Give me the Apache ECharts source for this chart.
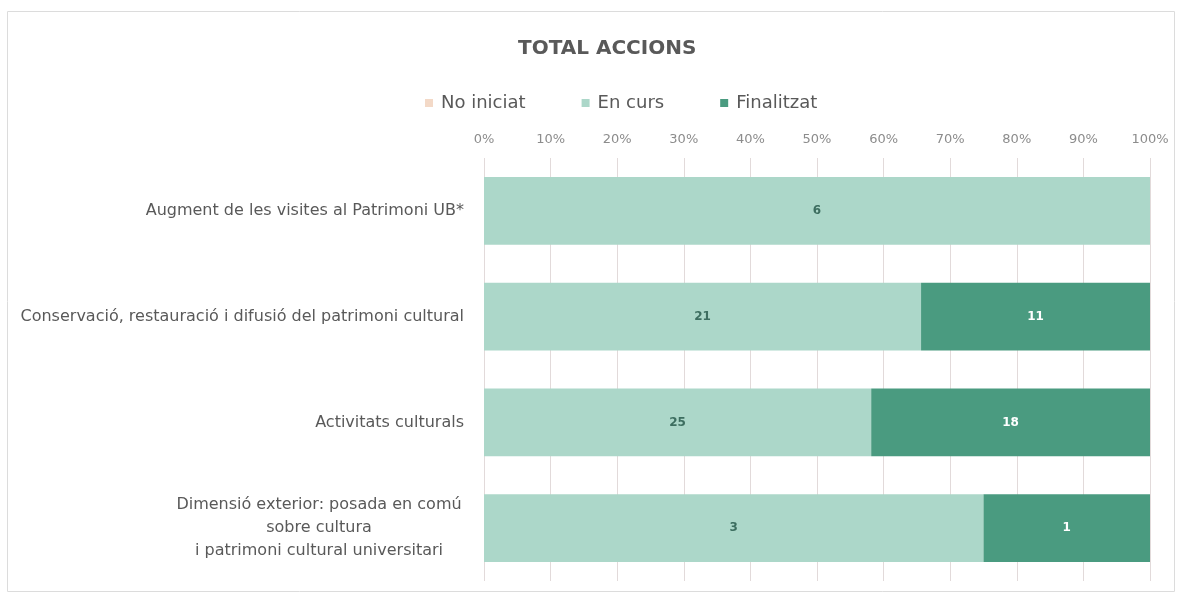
<!DOCTYPE html>
<html>
<head>
<meta charset="utf-8">
<script src="https://cdn.jsdelivr.net/npm/echarts@6/dist/echarts.min.js"></script>
<style>html,body{margin:0;padding:0;background:#fff}#c{width:1181px;height:596px}</style>
</head>
<body>
<div id="c"></div>
<script>
var categories = [
  "Augment de les visites al Patrimoni UB*",
  "Conservació, restauració i difusió del patrimoni cultural",
  "Activitats culturals",
  "Dimensió exterior: posada en comú\nsobre cultura\ni patrimoni cultural universitari"
];
var seriesNames = ["No iniciat", "En curs", "Finalitzat"];
var noIniciat = [0, 0, 0, 0];
var enCurs = [6, 21, 25, 3];
var finalitzat = [0, 11, 18, 1];
var tickLabels = ["0%","10%","20%","30%","40%","50%","60%","70%","80%","90%","100%"];

var totals = categories.map(function(_, i){ return noIniciat[i] + enCurs[i] + finalitzat[i]; });
function share(arr){ return arr.map(function(v, i){ return {value: totals[i] ? v / totals[i] * 100 : 0, count: v}; }); }

var FONT = "DejaVu Sans";
var chart = echarts.init(document.getElementById('c'));
var labelFmt = function(p){ return p.data.count > 0 ? String(p.data.count) : ''; };

chart.setOption({
  animation: false,
  textStyle: {fontFamily: FONT},
  graphic: [{type: 'rect', shape: {x: 7.5, y: 11.5, width: 1167, height: 580}, style: {fill: 'none', stroke: '#dcdcdc', lineWidth: 1}, silent: true}],
  title: {text: 'TOTAL ACCIONS', left: 513, top: 34, textStyle: {fontFamily: FONT, fontSize: 20, fontWeight: 'bold', color: '#595959'}},
  legend: {left: 420, top: 89, itemWidth: 8, itemHeight: 8, itemGap: 56, icon: 'rect',
    textStyle: {fontFamily: FONT, fontSize: 18, color: '#595959', padding: [0, 0, 0, 3]}, data: seriesNames},
  grid: {left: 484, right: 31, top: 158, bottom: 15, containLabel: false},
  xAxis: {type: 'value', position: 'top', min: 0, max: 100, interval: 10,
    axisLine: {show: false}, axisTick: {show: false},
    splitLine: {show: true, lineStyle: {color: '#e2dada', width: 1}},
    axisLabel: {margin: 12, color: '#8c8c8c', fontSize: 13, fontFamily: FONT,
      formatter: function(v){ return tickLabels[Math.round(v/10)]; }}},
  yAxis: {type: 'category', inverse: true, data: categories,
    axisLine: {show: false}, axisTick: {show: false},
    axisLabel: {margin: 20, color: '#595959', fontSize: 16, fontFamily: FONT, lineHeight: 23,
      formatter: function(v){
        if (v.indexOf('\n') >= 0) {
          return v.split('\n').map(function(l){ return '{c|' + l + '}'; }).join('\n');
        }
        return v;
      },
      rich: {c: {width: 290, align: 'center', fontSize: 16, color: '#595959', fontFamily: FONT, lineHeight: 23}}}},
  series: [
    {name: seriesNames[0], type: 'bar', stack: 't', barCategoryGap: '36%', data: share(noIniciat),
      itemStyle: {color: '#f3d9c7'}, label: {show: true, formatter: labelFmt, color: '#595959', fontWeight: 'bold', fontSize: 12}},
    {name: seriesNames[1], type: 'bar', stack: 't', barCategoryGap: '36%', data: share(enCurs),
      itemStyle: {color: '#acd7c9'}, label: {show: true, formatter: labelFmt, color: '#3d6e60', fontWeight: 'bold', fontSize: 12}},
    {name: seriesNames[2], type: 'bar', stack: 't', barCategoryGap: '36%', data: share(finalitzat),
      itemStyle: {color: '#4a9b80'}, label: {show: true, formatter: labelFmt, color: '#ffffff', fontWeight: 'bold', fontSize: 12}}
  ]
});
</script>
</body>
</html>
